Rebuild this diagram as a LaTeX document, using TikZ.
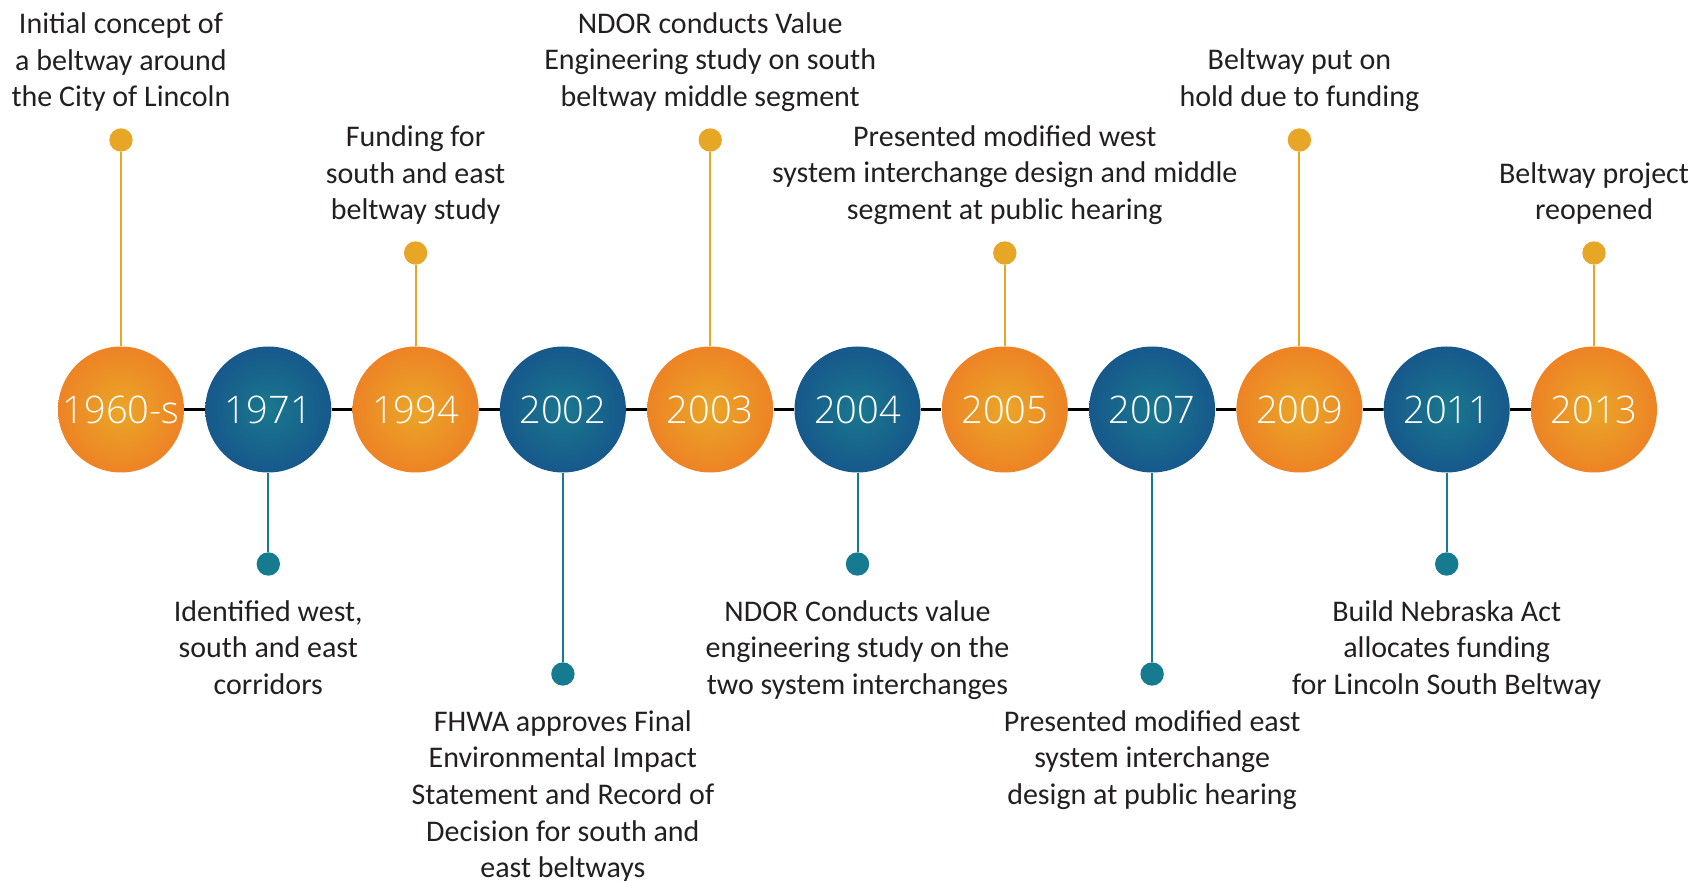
\documentclass[tikz,border=0pt]{standalone}
\usepackage{fontspec}
\setmainfont{Carlito}
\IfFontExistsTF{Open Sans Light}
  {\newfontfamily\yearfont{Open Sans Light}}
  {\newfontfamily\yearfont{TeX Gyre Heros}}
\usetikzlibrary{positioning}
\definecolor{ringorange}{RGB}{238,124,36}
\definecolor{coreorange}{RGB}{234,166,40}
\definecolor{ringblue}{RGB}{21,72,138}
\definecolor{coreblue}{RGB}{26,120,142}
\definecolor{stemorange}{RGB}{232,166,38}
\definecolor{stemteal}{RGB}{22,122,144}
\definecolor{notegray}{RGB}{35,31,32}
\pgfdeclareradialshading{orangeglow}{\pgfpoint{0bp}{0bp}}{color(0bp)=(coreorange); color(30bp)=(ringorange); color(50bp)=(ringorange)}
\pgfdeclareradialshading{blueglow}{\pgfpoint{0bp}{0bp}}{color(0bp)=(coreblue); color(38bp)=(ringblue); color(50bp)=(ringblue)}
\begin{document}
\begin{tikzpicture}[x=0.5pt,y=-0.5pt,
  year/.style={circle,minimum size=63pt,inner sep=0pt,text=white,
    font=\yearfont\fontsize{19}{19}\selectfont},
  orangeyear/.style={year,shading=orangeglow},
  blueyear/.style={year,shading=blueglow},
  topdot/.style={circle,fill=stemorange,minimum size=11.7pt,inner sep=0pt},
  botdot/.style={circle,fill=stemteal,minimum size=11.7pt,inner sep=0pt},
  topstem/.style={stemorange,line width=1pt},
  botstem/.style={stemteal,line width=1pt},
  link/.style={black,line width=1.3pt},
  note/.style={align=center,inner sep=0pt,text=notegray,
    font=\fontsize{15}{18.3}\selectfont}]
\useasboundingbox (0,0) rectangle (1703,881);

% the years
\node[orangeyear] (y1) at (121,409.5) {1960-s};
\node[blueyear] (y2) at (268.3,409.5) {1971};
\node[orangeyear] (y3) at (415.6,409.5) {1994};
\node[blueyear] (y4) at (562.9,409.5) {2002};
\node[orangeyear] (y5) at (710.2,409.5) {2003};
\node[blueyear] (y6) at (857.5,409.5) {2004};
\node[orangeyear] (y7) at (1004.8,409.5) {2005};
\node[blueyear] (y8) at (1152.1,409.5) {2007};
\node[orangeyear] (y9) at (1299.4,409.5) {2009};
\node[blueyear] (y10) at (1446.7,409.5) {2011};
\node[orangeyear] (y11) at (1594,409.5) {2013};

\draw[link] (y1) -- (y2);
\draw[link] (y2) -- (y3);
\draw[link] (y3) -- (y4);
\draw[link] (y4) -- (y5);
\draw[link] (y5) -- (y6);
\draw[link] (y6) -- (y7);
\draw[link] (y7) -- (y8);
\draw[link] (y8) -- (y9);
\draw[link] (y9) -- (y10);
\draw[link] (y10) -- (y11);

% pins
\node[topdot] (d1) at (121,140) {};
\node[botdot] (d2) at (268.3,564) {};
\node[topdot] (d3) at (415.6,253) {};
\node[botdot] (d4) at (562.9,674) {};
\node[topdot] (d5) at (710.2,140) {};
\node[botdot] (d6) at (857.5,564) {};
\node[topdot] (d7) at (1004.8,253) {};
\node[botdot] (d8) at (1152.1,674) {};
\node[topdot] (d9) at (1299.4,140) {};
\node[botdot] (d10) at (1446.7,564) {};
\node[topdot] (d11) at (1594,253) {};

\draw[topstem] (y1) -- (d1);
\draw[botstem] (y2) -- (d2);
\draw[topstem] (y3) -- (d3);
\draw[botstem] (y4) -- (d4);
\draw[topstem] (y5) -- (d5);
\draw[botstem] (y6) -- (d6);
\draw[topstem] (y7) -- (d7);
\draw[botstem] (y8) -- (d8);
\draw[topstem] (y9) -- (d9);
\draw[botstem] (y10) -- (d10);
\draw[topstem] (y11) -- (d11);

% events
\node[note,above=8pt of d1] (e1) {Initial concept of\\a beltway around\\the City of Lincoln};
\node[note,below=12pt of d2] (e2) {Identified west,\\south and east\\corridors};
\node[note,above=8pt of d3] (e3) {Funding for\\south and east\\beltway study};
\node[note,below=12pt of d4] (e4) {FHWA approves Final\\Environmental Impact\\Statement and Record of\\Decision for south and\\east beltways};
\node[note,above=8pt of d5] (e5) {NDOR conducts Value\\Engineering study on south\\beltway middle segment};
\node[note,below=12pt of d6] (e6) {NDOR Conducts value\\engineering study on the\\two system interchanges};
\node[note,above=8pt of d7] (e7) {Presented modified west\\system interchange design and middle\\segment at public hearing};
\node[note,below=12pt of d8] (e8) {Presented modified east\\system interchange\\design at public hearing};
\node[note,above=8pt of d9] (e9) {Beltway put on\\hold due to funding};
\node[note,below=12pt of d10] (e10) {Build Nebraska Act\\allocates funding\\for Lincoln South Beltway};
\node[note,above=8pt of d11] (e11) {Beltway project\\reopened};
\end{tikzpicture}
\end{document}
